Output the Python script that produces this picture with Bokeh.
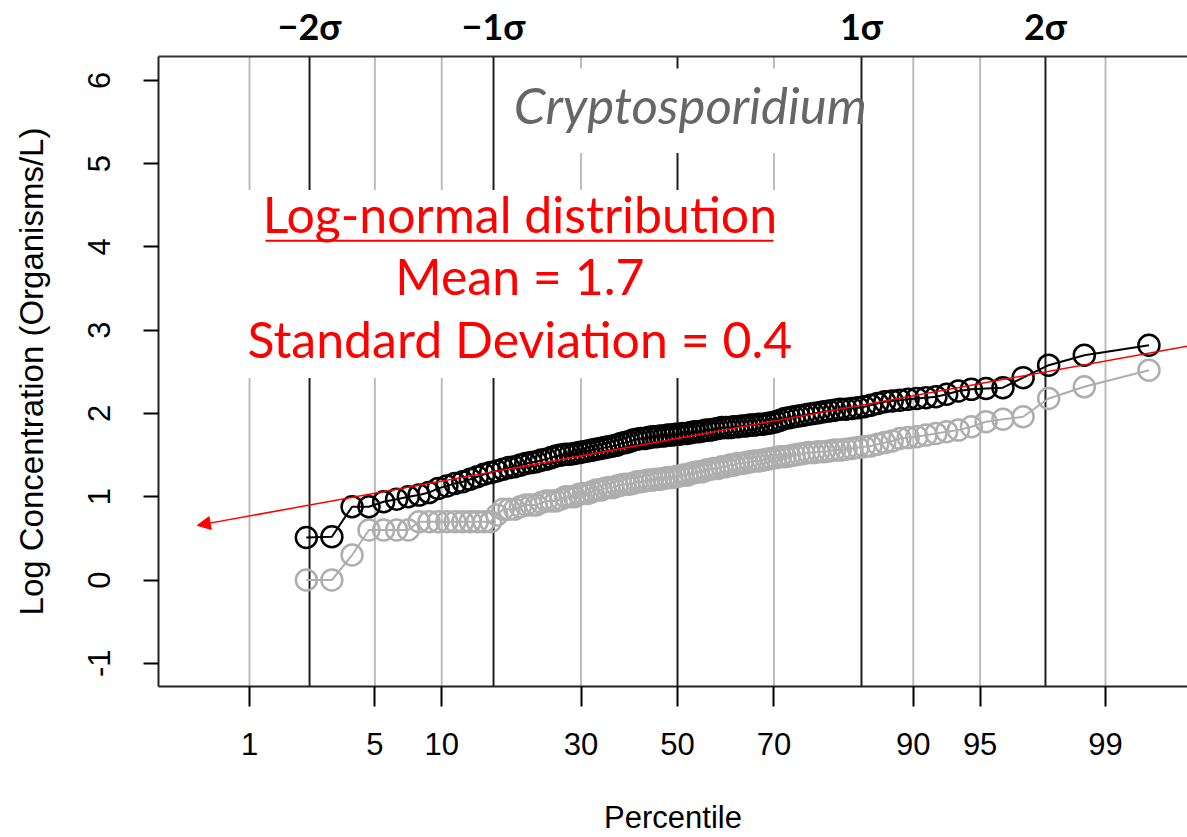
from statistics import NormalDist

from bokeh.embed import file_html
from bokeh.models import (Arrow, FixedTicker, Label, LinearAxis, NormalHead,
                          Range1d)
from bokeh.plotting import figure
from bokeh.resources import INLINE

# ---- data -----------------------------------------------------------------
# sorted log10 concentrations; the two lowest of 120 samples are non-detects
n_samples = 120
first_rank = 3

log_conc = [
    0.51, 0.52, 0.88, 0.88, 0.94, 0.97, 1.00, 1.02, 1.05, 1.10,
    1.13, 1.16, 1.18, 1.21, 1.24, 1.27, 1.29, 1.31, 1.33, 1.35,
    1.36, 1.38, 1.40, 1.41, 1.42, 1.44, 1.45, 1.47, 1.49, 1.50,
    1.51, 1.51, 1.52, 1.53, 1.54, 1.55, 1.56, 1.57, 1.58, 1.59,
    1.60, 1.61, 1.62, 1.64, 1.65, 1.66, 1.68, 1.69, 1.70, 1.70,
    1.71, 1.72, 1.72, 1.73, 1.73, 1.74, 1.74, 1.75, 1.75, 1.76,
    1.76, 1.77, 1.78, 1.78, 1.79, 1.80, 1.80, 1.81, 1.82, 1.83,
    1.83, 1.83, 1.84, 1.84, 1.85, 1.85, 1.86, 1.86, 1.87, 1.87,
    1.88, 1.89, 1.90, 1.92, 1.94, 1.95, 1.96, 1.97, 1.98, 1.99,
    2.00, 2.01, 2.02, 2.03, 2.04, 2.05, 2.05, 2.06, 2.07, 2.08,
    2.10, 2.12, 2.14, 2.15, 2.16, 2.17, 2.18, 2.19, 2.20, 2.23,
    2.27, 2.29, 2.30, 2.31, 2.43, 2.58, 2.70, 2.82,
]

log_conc_raw = [
    0.00, 0.00, 0.30, 0.60, 0.60, 0.60, 0.60,
    0.70, 0.70, 0.70, 0.70, 0.70, 0.70, 0.70, 0.70, 0.70, 0.70,
    0.78, 0.85, 0.85, 0.85,
    0.88, 0.90, 0.90, 0.90, 0.93, 0.95, 0.95, 0.95, 0.97,
    1.00, 1.00, 1.00, 1.03, 1.04, 1.04, 1.06, 1.08, 1.08, 1.10,
    1.11, 1.11, 1.13, 1.14, 1.15, 1.15, 1.16, 1.18, 1.18, 1.19,
    1.20, 1.20, 1.21, 1.21, 1.22, 1.23, 1.23, 1.24, 1.25, 1.26,
    1.26, 1.28, 1.29, 1.30, 1.30, 1.32, 1.33, 1.34, 1.34, 1.36,
    1.36, 1.38, 1.38, 1.40, 1.40, 1.41, 1.42, 1.43, 1.43, 1.44,
    1.45, 1.46, 1.47, 1.48, 1.48, 1.49, 1.50, 1.51, 1.52, 1.53,
    1.53, 1.54, 1.54, 1.55, 1.56, 1.56, 1.57, 1.58, 1.59, 1.60,
    1.61, 1.63, 1.65, 1.67, 1.70, 1.71, 1.72, 1.74, 1.76, 1.78,
    1.80, 1.84, 1.90, 1.93, 1.96, 2.18, 2.32, 2.52,
]

fit_mean = 1.7
fit_sd = 0.4

pct_ticks = [1, 5, 10, 30, 50, 70, 90, 95, 99]
sigma_ticks = [-2, -1, 1, 2]
sigma_labels = ["\u22122\u03c3", "\u22121\u03c3", "1\u03c3", "2\u03c3"]
y_ticks = [-1, 0, 1, 2, 3, 4, 5, 6]

# ---- probability scale --------------------------------------------------------
nd = NormalDist()


def probit(p):
    return nd.inv_cdf(p)


ranks = range(first_rank, n_samples + 1)
plot_pos = [(r - 0.375) / (n_samples + 0.25) for r in ranks]
zx = [probit(q) for q in plot_pos]

pct_z = [probit(v / 100.0) for v in pct_ticks]

X0, X1 = -2.821, 2.772
Y0, Y1 = -1.279, 6.287

p = figure(width=1187, height=837,
           x_range=Range1d(X0, X1), y_range=Range1d(Y0, Y1),
           output_backend="svg", toolbar_location=None,
           x_axis_location=None, y_axis_location=None,
           min_border_left=158, min_border_right=0,
           min_border_top=53, min_border_bottom=151)
p.outline_line_color = None
p.xgrid.visible = False
p.ygrid.visible = False
p.background_fill_color = "white"
p.border_fill_color = "white"

# ---- reference lines ------------------------------------------------------------
grey_z = [z for v, z in zip(pct_ticks, pct_z) if v != 50]
dark_z = [0.0] + [float(s) for s in sigma_ticks]
p.segment(x0=grey_z, x1=grey_z, y0=[Y0] * len(grey_z), y1=[Y1] * len(grey_z),
          line_color="#BDBDBD", line_width=2)
p.segment(x0=dark_z, x1=dark_z, y0=[Y0] * len(dark_z), y1=[Y1] * len(dark_z),
          line_color="#1E1E1E", line_width=2)

# white panels behind the annotation texts
p.quad(left=[-0.962, -2.375], right=[0.940, 0.641],
       bottom=[5.127, 2.426], top=[6.143, 4.685],
       fill_color="white", line_color=None)

# ---- data series ----------------------------------------------------------------
p.line(zx, log_conc_raw, line_color="#AEAEAE", line_width=2)
p.scatter(zx, log_conc_raw, size=21, fill_color=None, line_color="#AEAEAE",
          line_width=2.5)
p.line(zx, log_conc, line_color="black", line_width=2)
p.scatter(zx, log_conc, size=21, fill_color=None, line_color="black",
          line_width=2.5)

# fitted log-normal line
z_tip = -2.61
z_tail = 2.95
p.add_layout(Arrow(end=NormalHead(size=13, fill_color="red", line_color="red",
                                  line_width=1),
                   x_start=z_tail, y_start=fit_mean + fit_sd * z_tail,
                   x_end=z_tip, y_end=fit_mean + fit_sd * z_tip,
                   line_color="red", line_width=1.5))

# ---- texts ------------------------------------------------------------------------
p.add_layout(Label(x=0.07, y=5.715, text="Cryptosporidium",
                   text_font="Lato", text_font_style="italic",
                   text_font_size="51px", text_color="#666666",
                   text_align="center", text_baseline="middle"))

red_lines = ["Log-normal distribution",
             "Mean = %.1f" % fit_mean,
             "Standard Deviation = %.1f" % fit_sd]
for txt, ym in zip(red_lines, [4.40, 3.645, 2.89]):
    p.add_layout(Label(x=-0.857, y=ym, text=txt, text_font="Lato",
                       text_font_size="50px", text_color="red",
                       text_align="center", text_baseline="middle"))
p.segment(x0=[-2.239], x1=[0.522], y0=[4.075], y1=[4.075],
          line_color="red", line_width=2)

# ---- axes -------------------------------------------------------------------------
axis_font = "Liberation Sans"

xaxis = LinearAxis(ticker=FixedTicker(ticks=pct_z),
                   major_label_overrides={z: str(v) for z, v in zip(pct_z, pct_ticks)},
                   axis_label="Percentile")
xaxis.axis_line_width = 2
xaxis.axis_line_color = "#222222"
xaxis.major_tick_out = 20
xaxis.major_tick_in = 0
xaxis.major_tick_line_width = 2
xaxis.minor_tick_out = 0
xaxis.minor_tick_in = 0
xaxis.major_label_standoff = 26
xaxis.major_label_text_font = axis_font
xaxis.major_label_text_font_size = "31px"
xaxis.major_label_text_color = "black"
xaxis.axis_label_text_font = axis_font
xaxis.axis_label_text_font_size = "31px"
xaxis.axis_label_text_font_style = "normal"
xaxis.axis_label_text_color = "black"
xaxis.axis_label_standoff = 42
p.add_layout(xaxis, "below")

yaxis = LinearAxis(ticker=FixedTicker(ticks=y_ticks),
                   major_label_overrides={t: str(t) for t in y_ticks},
                   axis_label="Log Concentration (Organisms/L)")
yaxis.axis_line_width = 2
yaxis.axis_line_color = "#222222"
yaxis.major_tick_out = 15
yaxis.major_tick_in = 0
yaxis.major_tick_line_width = 2
yaxis.minor_tick_out = 0
yaxis.minor_tick_in = 0
yaxis.major_label_orientation = "vertical"
yaxis.major_label_standoff = 33
yaxis.major_label_text_font = axis_font
yaxis.major_label_text_font_size = "31px"
yaxis.major_label_text_color = "black"
yaxis.axis_label_text_font = axis_font
yaxis.axis_label_text_font_size = "33px"
yaxis.axis_label_text_font_style = "normal"
yaxis.axis_label_text_color = "black"
yaxis.axis_label_standoff = 36
p.add_layout(yaxis, "left")

top = LinearAxis(ticker=FixedTicker(ticks=sigma_ticks),
                 major_label_overrides=dict(zip(sigma_ticks, sigma_labels)))
top.axis_line_width = 2
top.axis_line_color = "#333333"
top.major_tick_out = 0
top.major_tick_in = 0
top.minor_tick_out = 0
top.minor_tick_in = 0
top.major_label_standoff = 9
top.major_label_text_font = "Lato"
top.major_label_text_font_style = "bold"
top.major_label_text_font_size = "36px"
top.major_label_text_color = "black"
p.add_layout(top, "above")

open("out.html", "w").write(file_html(p, INLINE))
